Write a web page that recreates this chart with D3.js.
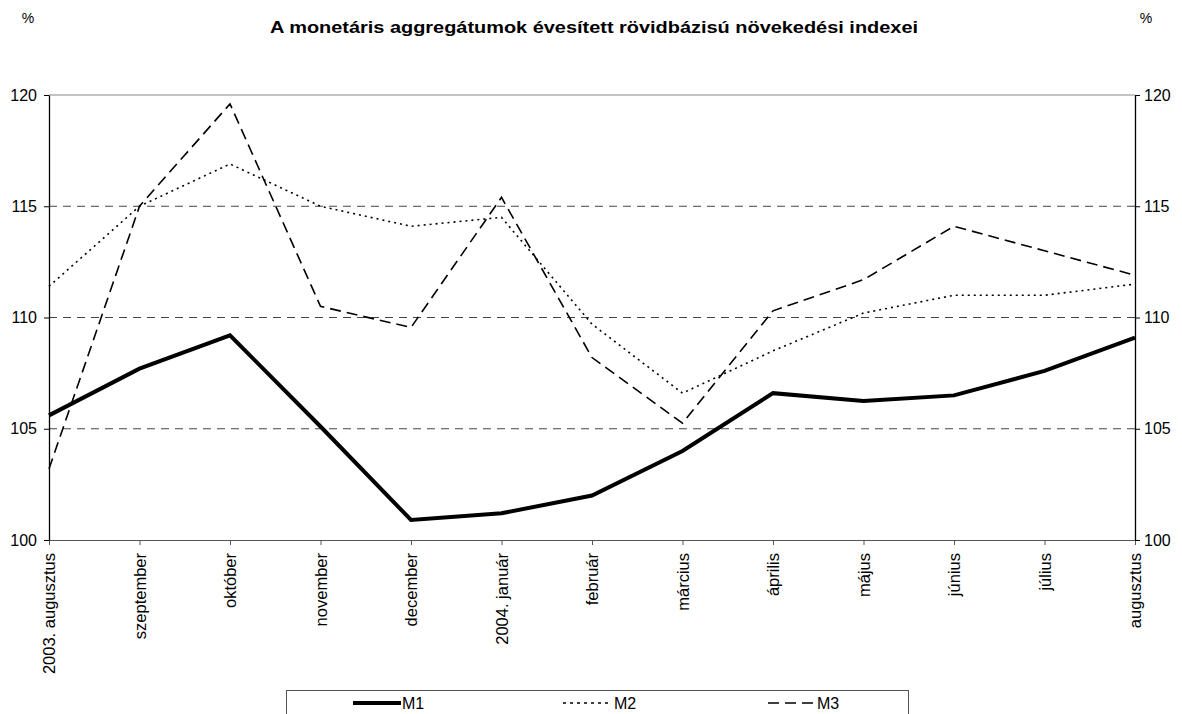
<!DOCTYPE html>
<html>
<head>
<meta charset="utf-8">
<script src="https://cdn.jsdelivr.net/npm/d3@7"></script>
<style>
  body { margin: 0; background: #fff; }
  svg text { font-family: Arial, "Liberation Sans", sans-serif; fill: #000; }
</style>
</head>
<body>
<div id="chart"></div>
<script>
// months on the x axis
var months = ["2003. augusztus", "szeptember", "október", "november", "december",
  "2004. január", "február", "március", "április", "május", "június", "július", "augusztus"];

var m1 = [105.6, 107.7, 109.2, 105.1, 100.9, 101.2, 102.0, 104.0, 106.6, 106.25, 106.5, 107.6, 109.1];
var m2 = [111.4, 115.0, 116.9, 115.0, 114.1, 114.5, 109.7, 106.6, 108.5, 110.2, 111.0, 111.0, 111.5];
var m3 = [103.2, 115.0, 119.6, 110.5, 109.55, 115.4, 108.2, 105.25, 110.3, 111.7, 114.1, 113.0, 111.9];

var yTicks = [100, 105, 110, 115, 120];
var seriesNames = ["M1", "M2", "M3"];

var width = 1182, height = 714;
var margin = {top: 95, right: 47, bottom: 174, left: 49};
var w = width - margin.left - margin.right,
    h = height - margin.top - margin.bottom;

var svg = d3.select("#chart").append("svg")
    .attr("width", width)
    .attr("height", height);

var x = d3.scalePoint().domain(months).range([0, w]);
var y = d3.scaleLinear().domain([100, 120]).range([h, 0]);

var g = svg.append("g")
    .attr("transform", "translate(" + margin.left + "," + margin.top + ")");

// grid lines
g.selectAll(".grid")
    .data(yTicks.filter(function(d) { return d > 100; }))
    .enter().append("line")
    .attr("x1", 0).attr("x2", w)
    .attr("y1", function(d) { return y(d); })
    .attr("y2", function(d) { return y(d); })
    .attr("stroke-width", 1)
    .attr("stroke-dasharray", function(d) { return d == 120 ? null : "8,6"; })
    .attr("stroke", function(d) { return d == 120 ? "#888" : "#444"; });

// x axis
var xAxis = g.append("g")
    .attr("transform", "translate(0," + h + ")")
    .call(d3.axisBottom(x).tickSize(5).tickSizeOuter(0));
xAxis.select(".domain").attr("stroke", "#555");
xAxis.selectAll(".tick line").attr("stroke", "#555");
xAxis.selectAll("text")
    .attr("transform", "rotate(-90)")
    .attr("x", -13)
    .attr("y", 0)
    .attr("dy", "0.35em")
    .style("text-anchor", "end")
    .style("font-size", "16.5px")
    .style("font-family", "Arial, 'Liberation Sans', sans-serif");

// left and right axes
var yLeft = g.append("g")
    .call(d3.axisLeft(y).tickValues(yTicks).tickSize(5).tickSizeOuter(0).tickPadding(7));
var yRight = g.append("g")
    .attr("transform", "translate(" + w + ",0)")
    .call(d3.axisRight(y).tickValues(yTicks).tickSize(5).tickSizeOuter(0).tickPadding(4));
[yLeft, yRight].forEach(function(a) {
  a.selectAll("text")
      .style("font-size", "16px")
      .style("font-family", "Arial, 'Liberation Sans', sans-serif");
  a.select(".domain").attr("stroke", "#000").attr("stroke-width", 1.3);
});

var line = d3.line()
    .x(function(d, i) { return x(months[i]); })
    .y(function(d) { return y(d); });

var styles = [
  {data: m1, width: 4, dash: null},
  {data: m2, width: 1.6, dash: "2,4"},
  {data: m3, width: 1.6, dash: "11,6"}
];

styles.forEach(function(s) {
  g.append("path")
      .datum(s.data)
      .attr("fill", "none")
      .attr("stroke", "#000")
      .attr("stroke-width", s.width)
      .attr("stroke-dasharray", s.dash)
      .attr("d", line);
});

// titles
svg.append("text")
    .attr("x", 270).attr("y", 33)
    .attr("textLength", 648)
    .attr("lengthAdjust", "spacingAndGlyphs")
    .style("font-size", "16px")
    .style("font-weight", "bold")
    .text("A monetáris aggregátumok évesített rövidbázisú növekedési indexei");

svg.append("text")
    .attr("x", 28).attr("y", 23)
    .attr("text-anchor", "middle")
    .style("font-size", "14px")
    .text("%");
svg.append("text")
    .attr("x", 1146).attr("y", 23)
    .attr("text-anchor", "middle")
    .style("font-size", "14px")
    .text("%");

// legend
var legend = svg.append("g");
legend.append("rect")
    .attr("x", 286.5).attr("y", 690.5)
    .attr("width", 622).attr("height", 40)
    .attr("fill", "none")
    .attr("stroke", "#555")
    .attr("stroke-width", 1);

var legendX = [353, 563, 768];
seriesNames.forEach(function(name, i) {
  var lg = legend.append("g").attr("transform", "translate(" + legendX[i] + ",703)");
  lg.append("line")
      .attr("x1", 0).attr("x2", 48)
      .attr("stroke", "#000")
      .attr("stroke-width", styles[i].width)
      .attr("stroke-dasharray", i == 1 ? "3,4" : styles[i].dash);
  lg.append("text")
      .attr("x", i == 1 ? 51 : 49)
      .attr("dy", "0.35em")
      .style("font-size", "16px")
      .text(name);
});
</script>
</body>
</html>
